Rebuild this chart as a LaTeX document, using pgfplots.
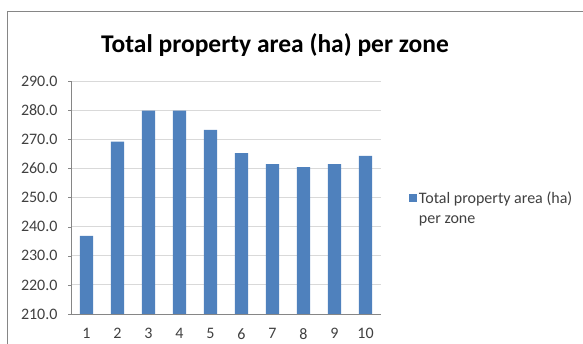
\documentclass[border=0pt]{standalone}
\usepackage{pgfplots}
\pgfplotsset{compat=1.18}
\usepackage{fontspec}
\setmainfont{Carlito}
\definecolor{barblue}{HTML}{4F81BD}
\definecolor{gridgray}{HTML}{D9D9D9}
\definecolor{axgray}{HTML}{868686}
\definecolor{txtgray}{HTML}{404040}
\begin{document}
\begin{tikzpicture}
\path[use as bounding box] (0,0) rectangle (583bp,344bp);
\draw[axgray, line width=1bp] (7bp,0) -- (7bp,332bp) -- (583bp,332bp);
\node[font=\bfseries\fontsize{25.5bp}{30bp}\selectfont, text=black, anchor=base] at (275bp,291bp) {Total property area (ha) per zone};
\begin{axis}[
  at={(71bp,30bp)}, anchor=south west,
  scale only axis, width=310bp, height=233bp,
  xmin=0.5, xmax=10.5, ymin=210, ymax=290,
  ytick distance=10,
  xtick={1,...,10},
  xticklabels={1,2,3,4,5,6,7,8,9,10},
  minor xtick={0.5,1.5,...,10.5},
  axis lines*=left,
  axis line style={axgray},
  x axis line style={-}, y axis line style={-},
  ymajorgrids, grid style={gridgray, line width=1bp},
  major tick length=3bp, minor tick length=3bp,
  tick align=outside,
  xtick style={draw=none},
  minor x tick style={axgray},
  ytick style={axgray},
  tick label style={font=\fontsize{16bp}{19bp}\selectfont, text=txtgray},
  /pgf/number format/assume math mode=true,
  /pgf/number format/fixed, /pgf/number format/fixed zerofill, /pgf/number format/precision=1,
  yticklabel style={xshift=-7bp},
  xticklabel style={yshift=-8bp},
  ybar, bar width=13.3bp,
  legend style={draw=none, at={(1.08,0.455)}, anchor=west, font=\fontsize{16bp}{20bp}\selectfont, text=txtgray, cells={align=left}},
  legend image code/.code={\fill[barblue] (0bp,6bp) rectangle (8bp,14bp);},
]
\addplot[fill=barblue, draw=none] coordinates {
(1,236.8) (2,269.2) (3,279.8) (4,279.8) (5,273.2) (6,265.2) (7,261.5) (8,260.4) (9,261.5) (10,264.3)};
\addlegendentry{Total property area (ha)\\per zone}
\end{axis}
\end{tikzpicture}
\end{document}
